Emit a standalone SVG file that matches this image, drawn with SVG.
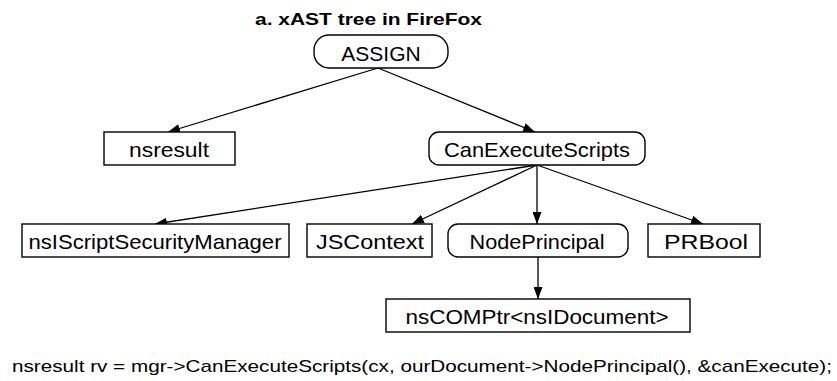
<svg xmlns="http://www.w3.org/2000/svg" width="837" height="381" viewBox="0 0 837 381">
<style>
.box{fill:#fff;stroke:#000;stroke-width:1.4}
.lbl{font-family:"Liberation Sans",Arial,sans-serif;font-size:21px;fill:#000;text-anchor:middle}
.title{font-family:"Liberation Sans",Arial,sans-serif;font-size:16.5px;font-weight:bold;fill:#000;text-anchor:middle}
.code{font-family:"Liberation Sans",Arial,sans-serif;font-size:17px;fill:#000}
.edge{stroke:#000;stroke-width:1.3;fill:none;marker-end:url(#arr)}
</style>
<defs>
<marker id="arr" markerUnits="userSpaceOnUse" markerWidth="13" markerHeight="9" refX="12" refY="4.5" orient="auto">
<path d="M0,0 L12,4.5 L0,9 z" fill="#000"/>
</marker>
</defs>
<rect width="837" height="381" fill="#fff"/>
<text class="title" x="368.5" y="25" textLength="227" lengthAdjust="spacingAndGlyphs">a. xAST  tree in FireFox</text>
<g id="connectors">
<line class="edge" x1="378" y1="68" x2="168" y2="132"/>
<line class="edge" x1="378" y1="68" x2="535" y2="132"/>
<line class="edge" x1="537" y1="165" x2="155" y2="224"/>
<line class="edge" x1="537" y1="165" x2="412" y2="224"/>
<line class="edge" x1="537" y1="165" x2="537" y2="224"/>
<line class="edge" x1="537" y1="165" x2="703" y2="224"/>
<line class="edge" x1="538" y1="257" x2="538" y2="299"/>
</g>
<g id="assign">
<rect class="box" x="314" y="35" width="134" height="33" rx="15"/>
<text class="lbl" x="381" y="60.5">ASSIGN</text>
</g>
<g id="nsresult">
<rect class="box" x="104" y="132" width="131" height="33"/>
<text class="lbl" x="169" y="156.5" textLength="80" lengthAdjust="spacingAndGlyphs">nsresult</text>
</g>
<g id="canexecutescripts">
<rect class="box" x="429" y="132" width="216" height="33" rx="10"/>
<text class="lbl" x="537" y="156.5" textLength="186" lengthAdjust="spacingAndGlyphs">CanExecuteScripts</text>
</g>
<g id="nsiscriptsecuritymanager">
<rect class="box" x="22" y="224" width="267" height="33"/>
<text class="lbl" x="155" y="248.5" textLength="253" lengthAdjust="spacingAndGlyphs">nsIScriptSecurityManager</text>
</g>
<g id="jscontext">
<rect class="box" x="307" y="224" width="125" height="33"/>
<text class="lbl" x="370" y="248.5" textLength="108" lengthAdjust="spacingAndGlyphs">JSContext</text>
</g>
<g id="nodeprincipal">
<rect class="box" x="448" y="224" width="180" height="33" rx="10"/>
<text class="lbl" x="537" y="248.5" textLength="135" lengthAdjust="spacingAndGlyphs">NodePrincipal</text>
</g>
<g id="prbool">
<rect class="box" x="648" y="224" width="112" height="33"/>
<text class="lbl" x="706" y="248.5" textLength="84" lengthAdjust="spacingAndGlyphs">PRBool</text>
</g>
<g id="nscomptr">
<rect class="box" x="386" y="299" width="304" height="33"/>
<text class="lbl" x="537" y="323.5" textLength="263" lengthAdjust="spacingAndGlyphs">nsCOMPtr&lt;nsIDocument&gt;</text>
</g>
<text class="code" x="12" y="372" textLength="820" lengthAdjust="spacingAndGlyphs">nsresult rv = mgr-&gt;CanExecuteScripts(cx, ourDocument-&gt;NodePrincipal(), &amp;canExecute);</text>
</svg>
